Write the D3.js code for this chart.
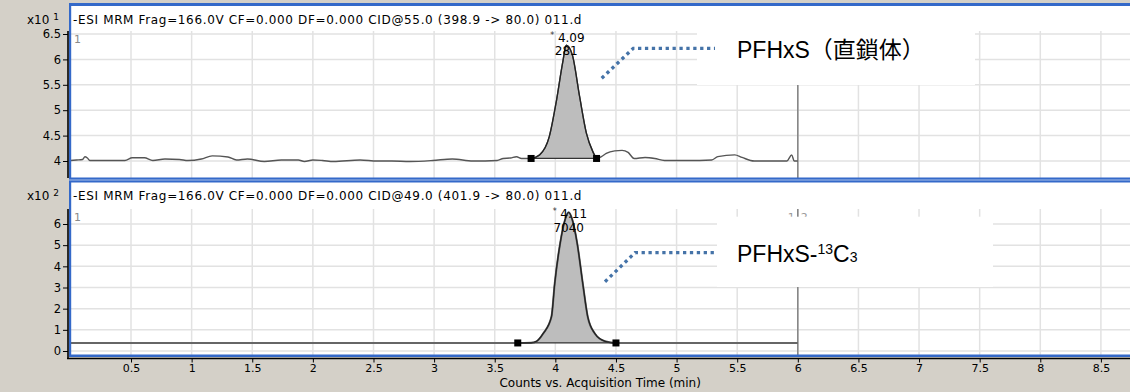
<!DOCTYPE html>
<html><head><meta charset="utf-8">
<script src="https://cdn.jsdelivr.net/npm/d3@7/dist/d3.min.js"></script>
<style>html,body{margin:0;padding:0;background:#d4d0c8;overflow:hidden}</style>
</head><body><svg id="c" width="1130" height="392"></svg>
<script>
// ---------- data ----------
const timeTicks = [0.5,1,1.5,2,2.5,3,3.5,4,4.5,5,5.5,6,6.5,7,7.5,8,8.5];
const p1Ticks = [4,4.5,5,5.5,6,6.5];
const p2Ticks = [0,1,2,3,4,5,6];
const p1Title = "-ESI MRM Frag=166.0V CF=0.000 DF=0.000 CID@55.0 (398.9 -> 80.0) 011.d";
const p2Title = "-ESI MRM Frag=166.0V CF=0.000 DF=0.000 CID@49.0 (401.9 -> 80.0) 011.d";
const p1Time = [0.00,0.05,0.10,0.12,0.14,0.16,0.30,0.45,0.51,0.61,0.68,0.78,0.90,0.97,1.08,1.17,1.30,1.37,1.46,1.60,1.74,1.88,1.93,2.00,2.08,2.17,2.39,2.53,2.65,2.80,2.99,3.15,3.32,3.52,3.57,3.63,3.68,3.72,3.80,3.87,3.95,4.01,4.06,4.09,4.14,4.20,4.256,4.31,4.34,4.38,4.42,4.49,4.55,4.60,4.65,4.74,4.82,4.90,5.09,5.29,5.34,5.48,5.54,5.64,5.91,5.95,5.97,6.00];
const p1Vals = [4.01,4.02,4.03,4.085,4.06,4.01,4.01,4.01,4.065,4.065,4.01,4.04,4.03,4.01,4.04,4.10,4.08,4.02,4.04,3.99,4.02,4.02,3.99,4.02,4.01,3.99,4.02,4.00,4.00,3.99,4.01,4.04,4.00,4.01,4.05,4.06,4.085,4.05,4.05,4.12,4.48,5.2,5.93,6.28,6.09,5.27,4.55,4.18,4.05,4.085,4.15,4.20,4.21,4.17,4.05,4.07,4.05,4.01,4.01,4.02,4.085,4.12,4.07,4.00,4.00,4.12,4.00,4.00];
const p1MarkTime = [3.80,4.34];
const p1MarkVals = [4.05,4.05];
const p2Time = [0.00,1.40,2.00,3.00,3.69,3.80,3.845,3.90,3.968,3.995,4.04,4.08,4.11,4.14,4.18,4.226,4.267,4.325,4.41,4.50,5.00,6.00];
const p2Vals = [0.38,0.38,0.38,0.38,0.38,0.39,0.46,0.83,1.62,3.2,5.1,6.2,6.55,6.2,5.1,3.2,1.62,0.83,0.46,0.38,0.38,0.38];
const p2MarkTime = [3.69,4.50];
const p2MarkVals = [0.38,0.38];
const peakRT = ["4.09","4.11"];
const peakArea = ["281","7040"];
const peakTime = [4.09,4.11];
const labels = ["PFHxS（直鎖体）","PFHxS-"];
const xTitle = "Counts vs. Acquisition Time (min)";

// ---------- drawing ----------
const svg = d3.select("#c");
const F = "DejaVu Sans, Verdana, sans-serif";
const BLUE = "#3469c9";
svg.append("rect").attr("width",1130).attr("height",392).attr("fill","#d4d0c8");

const x = d3.scaleLinear().domain([0,8.74]).range([70.4,1130]);
const y1 = d3.scaleLinear().domain([4,6.5]).range([161,34]);
const y2 = d3.scaleLinear().domain([0,6]).range([351,224]);

const panels = [
  {top:6, bottom:178, gridTop:31, titleY:24, y:y1, ticks:p1Ticks, title:p1Title, exp:"1",
   t:p1Time, v:p1Vals, mt:p1MarkTime, mv:p1MarkVals, lw:1.4, lc:"#555", vTop:31, rtY:42, arY:55},
  {top:182, bottom:355, gridTop:209, titleY:200, y:y2, ticks:p2Ticks, title:p2Title, exp:"2",
   t:p2Time, v:p2Vals, mt:p2MarkTime, mv:p2MarkVals, lw:2, lc:"#666", vTop:209, rtY:218, arY:232}
];

panels.forEach((p,i) => {
  const g = svg.append("g");
  g.append("rect").attr("x",71).attr("y",p.top).attr("width",1130-71).attr("height",p.bottom-p.top).attr("fill","#fff");
  // grid
  g.selectAll(".vg").data(timeTicks).enter().append("line")
    .attr("x1",d=>x(d)).attr("x2",d=>x(d)).attr("y1",p.gridTop).attr("y2",p.bottom)
    .attr("stroke","#e2e2e2").attr("stroke-width",1.5);
  g.selectAll(".hg").data(p.ticks).enter().append("line")
    .attr("x1",71).attr("x2",1130).attr("y1",d=>p.y(d)).attr("y2",d=>p.y(d))
    .attr("stroke","#e2e2e2").attr("stroke-width",1.5);
  // end-of-data line at 6 min
  g.append("line").attr("x1",x(6)).attr("x2",x(6)).attr("y1",p.vTop).attr("y2",p.bottom)
    .attr("stroke","#808080").attr("stroke-width",1.5);
  // title
  g.append("text").attr("x",73).attr("y",p.titleY).attr("font-family",F).attr("font-size",12)
    .attr("letter-spacing",0.65).attr("fill","#000").text(p.title);
  g.append("text").attr("x",74).attr("y",p.gridTop+12).attr("font-family",F).attr("font-size",11)
    .attr("fill","#8a8a8a").text("1");
  // exponent label
  const ex = g.append("text").attr("x",27).attr("y",p.titleY).attr("font-family",F).attr("font-size",12).attr("fill","#000");
  ex.append("tspan").text("x10 ");
  ex.append("tspan").attr("font-size",9).attr("dy",-4).text(p.exp);
  // y axis
  const yAxis = d3.axisLeft(p.y).tickValues(p.ticks).tickSize(5).tickPadding(2)
    .tickFormat(d=>String(d));
  const ga = g.append("g").attr("transform","translate(68,0)").call(yAxis);
  ga.select(".domain").remove();
  ga.selectAll("line").attr("stroke","#000");
  ga.selectAll("text").attr("font-family",F).attr("font-size",11.5).attr("fill","#000");
  g.append("line").attr("x1",68).attr("x2",68).attr("y1",p.gridTop).attr("y2",i==0?178:359)
    .attr("stroke","#000").attr("stroke-width",1.6);

  // fill of integrated peak
  const pts = p.t.map((t,k)=>[t,p.v[k]]);
  const inPeak = pts.filter(d=>d[0]>=p.mt[0]-1e-9 && d[0]<=p.mt[1]+1e-9);
  const base = d3.scaleLinear().domain(p.mt).range(p.mv);
  const area = d3.area().x(d=>x(d[0])).y0(d=>p.y(base(d[0]))).y1(d=>p.y(d[1])).curve(d3.curveMonotoneX);
  g.append("path").datum(inPeak).attr("d",area).attr("fill","#bdbdbd");
  // trace
  const line = d3.line().x(d=>x(d[0])).y(d=>p.y(d[1])).curve(d3.curveMonotoneX);
  g.append("path").datum(pts).attr("d",line).attr("fill","none").attr("stroke",p.lc).attr("stroke-width",p.lw);
  g.append("path").datum(inPeak).attr("d",line).attr("fill","none").attr("stroke","#222").attr("stroke-width",1.3);
  // integration baseline
  g.append("line").attr("x1",x(p.mt[0])).attr("x2",x(p.mt[1]))
    .attr("y1",p.y(p.mv[0])).attr("y2",p.y(p.mv[1])).attr("stroke","#333").attr("stroke-width",1.2);
  g.selectAll(".mk").data(p.mt).enter().append("rect")
    .attr("x",(d)=>x(d)-3.5).attr("y",(d,k)=>p.y(p.mv[k])-3.5).attr("width",7).attr("height",7).attr("fill","#000");
  // peak labels
  const px = x(peakTime[i]);
  g.append("text").attr("x",px-16).attr("y",p.rtY-4).attr("font-family",F).attr("font-size",8).attr("fill","#333").text("*");
  g.append("text").attr("x",px+5).attr("y",p.rtY).attr("text-anchor","middle").attr("font-family",F).attr("font-size",12).attr("fill","#000").text(peakRT[i]);
  g.append("text").attr("x",px).attr("y",p.arY).attr("text-anchor","middle").attr("font-family",F).attr("font-size",12).attr("fill","#000").text(peakArea[i]);
});

// "1|2" label in panel 2
svg.append("text").attr("x",x(6)-10).attr("y",221).attr("font-family",F).attr("font-size",11).attr("fill","#999").text("1");
svg.append("text").attr("x",x(6)+3).attr("y",221).attr("font-family",F).attr("font-size",11).attr("fill","#999").text("2");

// blue frame
svg.append("rect").attr("x",69).attr("y",3).attr("width",1061).attr("height",3).attr("fill",BLUE);
svg.append("rect").attr("x",69).attr("y",3).attr("width",2.2).attr("height",354).attr("fill",BLUE);
svg.append("rect").attr("x",69).attr("y",177.5).attr("width",1061).attr("height",5).attr("fill",BLUE);
svg.append("rect").attr("x",69).attr("y",179.5).attr("width",1061).attr("height",1).attr("fill","#a9c1ea");
svg.append("rect").attr("x",69).attr("y",354.5).attr("width",1061).attr("height",2.5).attr("fill",BLUE);

// x axis
const xAxis = d3.axisBottom(x).tickValues(timeTicks).tickSize(4).tickPadding(2).tickFormat(d=>String(d));
const gx = svg.append("g").attr("transform","translate(0,358.5)").call(xAxis);
gx.select(".domain").remove();
gx.selectAll("line").attr("stroke","#000");
gx.selectAll("text").attr("font-family",F).attr("font-size",11).attr("fill","#000");
svg.append("line").attr("x1",67).attr("x2",1130).attr("y1",358.5).attr("y2",358.5).attr("stroke","#000").attr("stroke-width",1.5);
svg.append("text").attr("x",(x(0)+1130)/2).attr("y",387).attr("text-anchor","middle")
  .attr("font-family",F).attr("font-size",12).attr("fill","#000").text(xTitle);

// annotation boxes
svg.append("rect").attr("x",697).attr("y",28).attr("width",975-697).attr("height",85-28).attr("fill","#fff");
svg.append("rect").attr("x",717).attr("y",216.7).attr("width",993-717).attr("height",287-216.7).attr("fill","#fff");

// leader lines
const lead = [[[601.7,78.3],[633.3,48.3],[715,48.3]],[[605,281.7],[635,252.7],[717,252.7]]];
lead.forEach(l=>{
  svg.append("path").attr("d",d3.line()(l)).attr("fill","none").attr("stroke","#4573a8")
    .attr("stroke-width",3.3).attr("stroke-dasharray","3.3,3.6");
});
const LF = "Liberation Sans, Arial, 'Noto Sans CJK JP', sans-serif";
svg.append("text").attr("x",737).attr("y",58).attr("font-family",LF).attr("font-size",23).attr("fill","#000").text(labels[0]);
const t2 = svg.append("text").attr("x",737).attr("y",262).attr("font-family",LF).attr("font-size",23).attr("fill","#000");
t2.append("tspan").text(labels[1]);
t2.append("tspan").attr("font-size",14).attr("dy",-8).text("13");
t2.append("tspan").attr("dy",8).text("C");
t2.append("tspan").attr("font-size",14).text("3");
</script></body></html>
